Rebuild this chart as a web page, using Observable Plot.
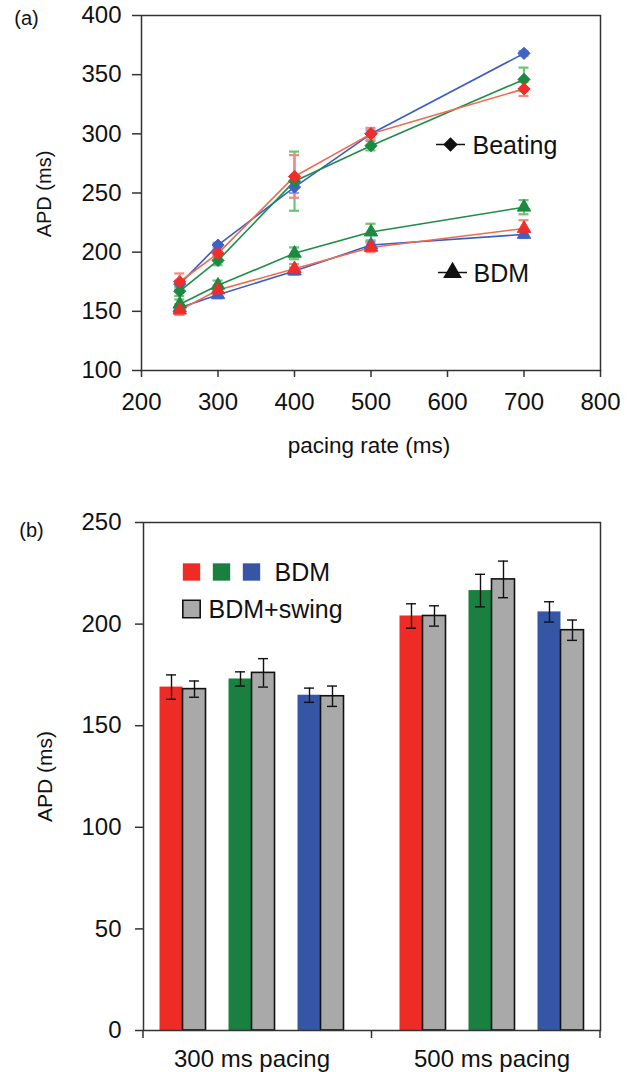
<!DOCTYPE html>
<html>
<head>
<meta charset="utf-8">
<script src="https://cdn.jsdelivr.net/npm/d3@7"></script>
<script src="https://cdn.jsdelivr.net/npm/@observablehq/plot@0.6"></script>
<style>
  html, body { margin: 0; padding: 0; background: #ffffff; overflow: hidden; }
  #chart svg { display: block; }
</style>
</head>
<body>
<div id="chart"></div>
<script>
// ---------- Panel (a) data ----------
const rates = [250, 300, 400, 500, 700];
const xTicksA = [200, 300, 400, 500, 600, 700, 800];
const yTicksA = [100, 150, 200, 250, 300, 350, 400];

const beatingBlue = [173, 206, 255, 300, 368];
const beatingBlueErr = [3, 2, 5, 3, 2];
const beatingRed = [175, 199, 264, 300, 338];
const beatingRedErr = [7, 3, 18, 5, 6];
const beatingGreen = [167, 193, 260, 290, 346];
const beatingGreenErr = [4, 4, 25, 4, 10];

const bdmBlue = [153, 164, 184, 206, 215];
const bdmBlueErr = [3, 3, 3, 3, 3];
const bdmRed = [151, 168, 186, 204, 220];
const bdmRedErr = [4, 4, 4, 4, 7];
const bdmGreen = [156, 172, 199, 217, 238];
const bdmGreenErr = [4, 4, 5, 7, 6];

const legendLabelsA = ["Beating", "BDM"];

// ---------- Panel (b) data ----------
const pacings = ["300 ms pacing", "500 ms pacing"];
const yTicksB = [0, 50, 100, 150, 200, 250];
const barRed = [169, 204];
const barRedErr = [6, 6];
const barRedSwing = [168, 204];
const barRedSwingErr = [4, 5];
const barGreen = [173, 216.5];
const barGreenErr = [3.5, 8];
const barGreenSwing = [176, 222];
const barGreenSwingErr = [7, 9];
const barBlue = [165, 206];
const barBlueErr = [3.5, 5];
const barBlueSwing = [164.5, 197];
const barBlueSwingErr = [5, 5];
const legendLabelsB = ["BDM", "BDM+swing"];

// ---------- styles ----------
const FONT = "'Liberation Sans', Arial, Helvetica, sans-serif";
const INK = "#111111";
const AXIS = "#333333";
const colors = {
  red:   {line: "#f26a4e", marker: "#ee2e2a", err: "#f28a80", bar: "#ee2b24"},
  green: {line: "#1e8c46", marker: "#1c8a40", err: "#6cc474", bar: "#19803f"},
  blue:  {line: "#3b5cc6", marker: "#4062c4", err: "#8ea0e6", bar: "#3656a5"}
};
const GRAY = "#a9a9a9";
const MID = {lineAnchor: "middle", textAnchor: "middle"};

// ---------- Panel (a) ----------
const seriesA = [
  {key: "blue",  beat: beatingBlue,  beatErr: beatingBlueErr,  bdm: bdmBlue,  bdmErr: bdmBlueErr},
  {key: "green", beat: beatingGreen, beatErr: beatingGreenErr, bdm: bdmGreen, bdmErr: bdmGreenErr},
  {key: "red",   beat: beatingRed,   beatErr: beatingRedErr,   bdm: bdmRed,   bdmErr: bdmRedErr}
];
function rowsOf(vals, errs) {
  return rates.map((r, i) => ({rate: r, value: vals[i], err: errs[i]}));
}
const errMarks = [], lineMarks = [], dotMarks = [];
for (const s of seriesA) {
  const c = colors[s.key];
  for (const [vals, errs, sym, r] of [[s.beat, s.beatErr, "diamond2", 5.5], [s.bdm, s.bdmErr, "triangle", 5.0]]) {
    const rows = rowsOf(vals, errs);
    errMarks.push(
      Plot.ruleX(rows, {x: "rate", y1: d => d.value - d.err, y2: d => d.value + d.err, stroke: c.err, strokeWidth: 2.2}),
      Plot.ruleY(rows, {y: d => d.value + d.err, x1: "rate", x2: "rate", insetLeft: -5, insetRight: -5, stroke: c.err, strokeWidth: 2.2}),
      Plot.ruleY(rows, {y: d => d.value - d.err, x1: "rate", x2: "rate", insetLeft: -5, insetRight: -5, stroke: c.err, strokeWidth: 2.2})
    );
    lineMarks.push(Plot.line(rows, {x: "rate", y: "value", stroke: c.line, strokeWidth: 1.6}));
    dotMarks.push(Plot.dot(rows, {x: "rate", y: "value", symbol: sym, r, fill: c.marker, stroke: c.marker, strokeWidth: 1}));
  }
}
const legendLine = {draw(ctx, size) { const r = Math.sqrt(size / Math.PI); ctx.moveTo(-r, 0); ctx.lineTo(r, 0); }};
const legA = [
  {label: legendLabelsA[0], symbol: "diamond2", r: 5.6, dx: 309, dy: 129, lx: 309, tx: 331},
  {label: legendLabelsA[1], symbol: "triangle", r: 6.0, dx: 311, dy: 257, lx: 311, tx: 332}
];
const legendMarksA = [];
for (const l of legA) {
  legendMarksA.push(
    Plot.dot([0], {frameAnchor: "top-left", dx: l.lx, dy: l.dy, symbol: legendLine, r: 14.5, stroke: INK, strokeWidth: 1.5, fill: "none"}),
    Plot.dot([0], {frameAnchor: "top-left", dx: l.dx, dy: l.dy, symbol: l.symbol, r: l.r, fill: INK, stroke: INK}),
    Plot.text([l.label], {frameAnchor: "top-left", dx: l.tx, dy: l.dy + 1, text: d => d, textAnchor: "start", lineAnchor: "middle", fontSize: 25, fill: INK})
  );
}

const plotA = Plot.plot({
  width: 630,
  height: 485,
  marginTop: 15,
  marginBottom: 115,
  marginLeft: 141,
  marginRight: 30,
  style: {fontFamily: FONT, fontSize: "24px", background: "#ffffff", color: INK},
  x: {domain: [200, 800]},
  y: {domain: [100, 400]},
  marks: [
    Plot.axisY({ticks: yTicksA, tickSize: 9, tickPadding: 11, label: null, stroke: AXIS, strokeWidth: 1.5, fill: INK, fontSize: 24}),
    Plot.axisX({ticks: xTicksA, tickSize: 7, tickPadding: 15, label: null, stroke: AXIS, strokeWidth: 1.5, fill: INK, fontSize: 24}),
    ...errMarks,
    ...lineMarks,
    ...dotMarks,
    Plot.frame({stroke: AXIS, strokeWidth: 1.5}),
    ...legendMarksA,
    Plot.text(["(a)"], {frameAnchor: "top-left", dx: -115, dy: 3, text: d => d, ...MID, fontSize: 20, fill: INK}),
    Plot.text(["APD (ms)"], {frameAnchor: "left", dx: -97, dy: 1, rotate: -90, text: d => d, ...MID, fontSize: 20, fill: INK}),
    Plot.text(["pacing rate (ms)"], {frameAnchor: "bottom", dx: -2, dy: 75, text: d => d, ...MID, fontSize: 22.5, fill: INK})
  ]
});

// ---------- Panel (b) ----------
const widthB = 630, mlB = 143, mrB = 30;
const padInner = 0.2333, padOuter = 0.0688;
const stepB = (widthB - mlB - mrB) / (pacings.length - padInner + 2 * padOuter);
const bw = stepB * (1 - padInner);
const slots = 8;
const slotW = bw / slots;
const capHalf = 5;

const seriesB = [
  {vals: barRed,        errs: barRedErr,        fill: colors.red.bar,   stroke: "none", slot: 0},
  {vals: barRedSwing,   errs: barRedSwingErr,   fill: GRAY,             stroke: INK,    slot: 1},
  {vals: barGreen,      errs: barGreenErr,      fill: colors.green.bar, stroke: "none", slot: 3},
  {vals: barGreenSwing, errs: barGreenSwingErr, fill: GRAY,             stroke: INK,    slot: 4},
  {vals: barBlue,       errs: barBlueErr,       fill: colors.blue.bar,  stroke: "none", slot: 6},
  {vals: barBlueSwing,  errs: barBlueSwingErr,  fill: GRAY,             stroke: INK,    slot: 7}
];
const barMarks = [], barErrMarks = [];
for (const s of seriesB) {
  const rows = pacings.map((p, j) => ({pacing: p, value: s.vals[j], err: s.errs[j]}));
  const cx = (s.slot + 0.5) * slotW;
  barMarks.push(Plot.barY(rows, {
    x: "pacing", y: "value", fill: s.fill, stroke: s.stroke, strokeWidth: 1.6,
    insetLeft: s.slot * slotW, insetRight: bw - (s.slot + 1) * slotW
  }));
  barErrMarks.push(
    Plot.ruleX(rows, {x: "pacing", y1: d => d.value - d.err, y2: d => d.value + d.err, dx: cx - bw / 2, stroke: INK, strokeWidth: 1.4}),
    Plot.tickY(rows, {x: "pacing", y: d => d.value + d.err, insetLeft: cx - capHalf, insetRight: bw - cx - capHalf, stroke: INK, strokeWidth: 1.4}),
    Plot.tickY(rows, {x: "pacing", y: d => d.value - d.err, insetLeft: cx - capHalf, insetRight: bw - cx - capHalf, stroke: INK, strokeWidth: 1.4})
  );
}
// category boundary ticks (Excel style)
function boundaryTicks(index, scales, values, dimensions) {
  const {x} = scales;
  const {width, height, marginLeft, marginRight, marginBottom} = dimensions;
  const b = x.bandwidth ? x.bandwidth() : bw;
  const xs = [marginLeft];
  for (let k = 0; k < pacings.length - 1; ++k) xs.push((x(pacings[k]) + b + x(pacings[k + 1])) / 2);
  xs.push(width - marginRight);
  const g = d3.create("svg:g").attr("stroke", AXIS).attr("stroke-width", 1.5);
  for (const v of xs) g.append("line").attr("x1", v).attr("x2", v).attr("y1", height - marginBottom).attr("y2", height - marginBottom + 8);
  return g.node();
}
const legB = [
  {fill: colors.red.bar,   stroke: "none", dx: 48,  dy: 49.5},
  {fill: colors.green.bar, stroke: "none", dx: 78,  dy: 49.5},
  {fill: colors.blue.bar,  stroke: "none", dx: 108, dy: 49.5},
  {fill: GRAY,             stroke: INK,    dx: 48,  dy: 86.5}
];
const legendMarksB = legB.map(l => Plot.dot([0], {frameAnchor: "top-left", dx: l.dx, dy: l.dy, symbol: "square", r: 9.8, fill: l.fill, stroke: l.stroke, strokeWidth: 1.6}));
legendMarksB.push(
  Plot.text([legendLabelsB[0]], {frameAnchor: "top-left", dx: 131, dy: 50.5, text: d => d, textAnchor: "start", lineAnchor: "middle", fontSize: 25, fill: INK}),
  Plot.text([legendLabelsB[1]], {frameAnchor: "top-left", dx: 65, dy: 87.5, text: d => d, textAnchor: "start", lineAnchor: "middle", fontSize: 25, fill: INK})
);

const plotB = Plot.plot({
  width: widthB,
  height: 587,
  marginTop: 37,
  marginBottom: 42,
  marginLeft: mlB,
  marginRight: mrB,
  style: {fontFamily: FONT, fontSize: "24px", background: "#ffffff", color: INK},
  x: {type: "band", domain: pacings, paddingInner: padInner, paddingOuter: padOuter, round: false},
  y: {domain: [0, 250]},
  marks: [
    Plot.axisY({ticks: yTicksB, tickSize: 8, tickPadding: 14, label: null, stroke: AXIS, strokeWidth: 1.5, fill: INK, fontSize: 24}),
    Plot.axisX({tickSize: 0, tickPadding: 19, label: null, fill: INK, fontSize: 24}),
    ...barMarks,
    ...barErrMarks,
    Plot.frame({stroke: AXIS, strokeWidth: 1.5}),
    boundaryTicks,
    ...legendMarksB,
    Plot.text(["(b)"], {frameAnchor: "top-left", dx: -112, dy: 8, text: d => d, ...MID, fontSize: 20, fill: INK}),
    Plot.text(["APD (ms)"], {frameAnchor: "left", dx: -98, dy: 0, rotate: -90, text: d => d, ...MID, fontSize: 21, fill: INK})
  ]
});

const chart = document.getElementById("chart");
chart.appendChild(plotA);
chart.appendChild(plotB);
</script>
</body>
</html>
